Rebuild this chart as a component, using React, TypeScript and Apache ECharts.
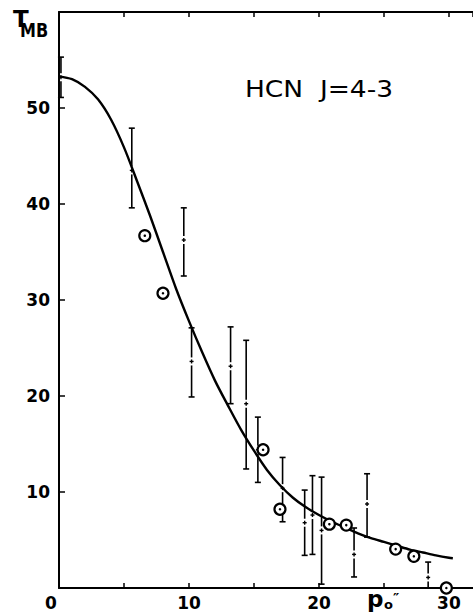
import React, { useEffect, useRef } from "react";
import * as echarts from "echarts";

// Model curve
const curveX = [0, 1, 2, 3, 4, 5, 6, 7, 8, 9, 10, 11, 12, 13, 14, 15, 16, 17, 18, 19, 20, 21, 22, 23, 24, 25, 26, 27, 28, 29, 30, 30.3];
const curveY = [53.3, 53.0, 52.2, 50.9, 48.8, 45.9, 42.4, 38.8, 35.0, 31.2, 27.8, 24.6, 21.6, 19.0, 16.5, 14.3, 12.3, 10.7, 9.4, 8.4, 7.6, 6.9, 6.3, 5.7, 5.2, 4.8, 4.4, 4.0, 3.7, 3.4, 3.15, 3.1];

// Circle (dot-in-ring) observations
const circX = [6.6, 8.0, 15.7, 17.0, 20.8, 22.1, 25.9, 27.3, 29.8];
const circY = [36.7, 30.7, 14.4, 8.2, 6.65, 6.55, 4.05, 3.3, 0.0];

// Error-bar observations
const barX = [0.15, 5.6, 9.6, 10.2, 13.2, 14.4, 15.3, 17.2, 18.9, 19.5, 20.2, 22.7, 23.7, 28.4];
const barMid = [53.2, 43.5, 36.25, 23.6, 23.1, 19.2, 14.4, 10.4, 6.8, 7.6, 6.0, 3.5, 8.75, 1.1];
const barLow = [51.1, 39.6, 32.5, 19.9, 19.2, 12.4, 11.0, 6.9, 3.4, 3.5, 0.4, 1.15, 5.3, 0.0];
const barHigh = [55.3, 47.9, 39.6, 27.1, 27.2, 25.8, 17.8, 13.6, 10.2, 11.7, 11.55, 6.25, 11.9, 2.7];

const xTickLabels = [0, 10, 20, 30];
const yTickLabels = [10, 20, 30, 40, 50];

const FONT = "DejaVu Sans";

export default function App() {
  const ref = useRef<HTMLDivElement>(null);
  useEffect(() => {
    if (!ref.current) return;
    const chart = echarts.init(ref.current, null, { renderer: "svg" });
    const barData = barX.map((x, i) => [x, barMid[i], barLow[i], barHigh[i]]);
    const lineStyle = { stroke: "#000", lineWidth: 1.6 };
    const labelStyle = { fontFamily: FONT, fontSize: 17, fontWeight: "bold", color: "#000" };
    chart.setOption({
      animation: false,
      backgroundColor: "#fff",
      grid: { left: 59, right: 0, top: 12, bottom: 26 },
      xAxis: [
        {
          type: "value",
          min: 0,
          max: 31.85,
          interval: 5,
          position: "bottom",
          splitLine: { show: false },
          axisLine: { lineStyle: { color: "#000", width: 2 } },
          axisTick: { inside: true, length: 5, lineStyle: { color: "#000", width: 1.5 } },
          axisLabel: {
            margin: 6,
            ...labelStyle,
            showMaxLabel: false,
            formatter: (v: number) =>
              xTickLabels.includes(v) ? (v === 0 ? "{z|0}" : "{n|" + v + "}") : "",
            rich: {
              z: { ...labelStyle, padding: [0, 16, 0, 0] },
              n: { ...labelStyle },
            },
          },
        },
        {
          type: "value",
          min: 0,
          max: 31.85,
          interval: 5,
          position: "top",
          splitLine: { show: false },
          axisLine: { lineStyle: { color: "#000", width: 2 } },
          axisTick: { inside: true, length: 5, lineStyle: { color: "#000", width: 1.5 } },
          axisLabel: { show: false },
        },
      ],
      yAxis: {
        type: "value",
        min: 0,
        max: 60,
        interval: 10,
        splitLine: { show: false },
        axisLine: { lineStyle: { color: "#000", width: 2 } },
        axisTick: { inside: true, length: 6, lineStyle: { color: "#000", width: 1.5 } },
        axisLabel: {
          margin: 9,
          ...labelStyle,
          formatter: (v: number) => (yTickLabels.includes(v) ? String(v) : ""),
        },
      },
      graphic: [
        {
          type: "text",
          x: 13,
          y: 7,
          style: { text: "T", font: `bold 23px "${FONT}"`, fill: "#000", verticalAlign: "top", lineHeight: 23 },
        },
        {
          type: "text",
          x: 20,
          y: 19.5,
          scaleX: 0.8,
          style: { text: "MB", font: `bold 20px "${FONT}"`, fill: "#000", verticalAlign: "top", lineHeight: 20 },
        },
        {
          type: "text",
          x: 245,
          y: 78,
          scaleX: 1.15,
          style: { text: "HCN  J=4-3", font: `23px "${FONT}"`, fill: "#000", verticalAlign: "top" },
        },
        {
          type: "text",
          x: 367,
          y: 587,
          style: { text: "p", font: `bold 23px "${FONT}"`, fill: "#000", verticalAlign: "top", lineHeight: 23 },
        },
        {
          type: "text",
          x: 384,
          y: 598,
          style: { text: "o", font: `bold 13px "${FONT}"`, fill: "#000", verticalAlign: "top", lineHeight: 13 },
        },
        {
          type: "text",
          x: 393,
          y: 591,
          style: { text: "″", font: `bold 14px "${FONT}"`, fill: "#000", verticalAlign: "top", lineHeight: 14 },
        },
      ],
      series: [
        {
          type: "line",
          data: curveX.map((x, i) => [x, curveY[i]]),
          smooth: 0.3,
          symbol: "none",
          lineStyle: { color: "#000", width: 2.4 },
          z: 3,
        },
        {
          type: "custom",
          data: barData,
          z: 4,
          clip: false,
          renderItem: (params: any, api: any) => {
            const x = api.value(0);
            const mid = api.coord([x, api.value(1)]);
            const lo = api.coord([x, api.value(2)]);
            const hi = api.coord([x, api.value(3)]);
            const cx = mid[0];
            const g = 4;
            const children: any[] = [];
            if (mid[1] - g > hi[1]) {
              children.push({ type: "line", shape: { x1: cx, y1: hi[1], x2: cx, y2: mid[1] - g }, style: lineStyle });
            }
            if (lo[1] > mid[1] + g) {
              children.push({ type: "line", shape: { x1: cx, y1: mid[1] + g, x2: cx, y2: lo[1] }, style: lineStyle });
            }
            children.push({ type: "line", shape: { x1: cx - 3, y1: hi[1], x2: cx + 3, y2: hi[1] }, style: lineStyle });
            if (api.value(2) > 0.05) {
              children.push({ type: "line", shape: { x1: cx - 3, y1: lo[1], x2: cx + 3, y2: lo[1] }, style: lineStyle });
            }
            children.push({ type: "line", shape: { x1: cx - 2, y1: mid[1], x2: cx + 2, y2: mid[1] }, style: { stroke: "#000", lineWidth: 1.4 } });
            children.push({ type: "line", shape: { x1: cx, y1: mid[1] - 2, x2: cx, y2: mid[1] + 2 }, style: { stroke: "#000", lineWidth: 1.4 } });
            return { type: "group", children };
          },
        },
        {
          type: "scatter",
          data: circX.map((x, i) => [x, circY[i]]),
          symbol: "circle",
          symbolSize: 11,
          clip: false,
          itemStyle: { color: "#fff", borderColor: "#000", borderWidth: 2.2, opacity: 1 },
          z: 5,
        },
        {
          type: "scatter",
          data: circX.map((x, i) => [x, circY[i]]),
          symbol: "circle",
          symbolSize: 2.5,
          clip: false,
          itemStyle: { color: "#000", opacity: 1 },
          z: 6,
        },
      ],
    });
    return () => chart.dispose();
  }, []);
  return (
    <div
      ref={ref}
      style={{ position: "fixed", left: 0, top: 0, width: 473, height: 614, background: "#fff" }}
    />
  );
}
